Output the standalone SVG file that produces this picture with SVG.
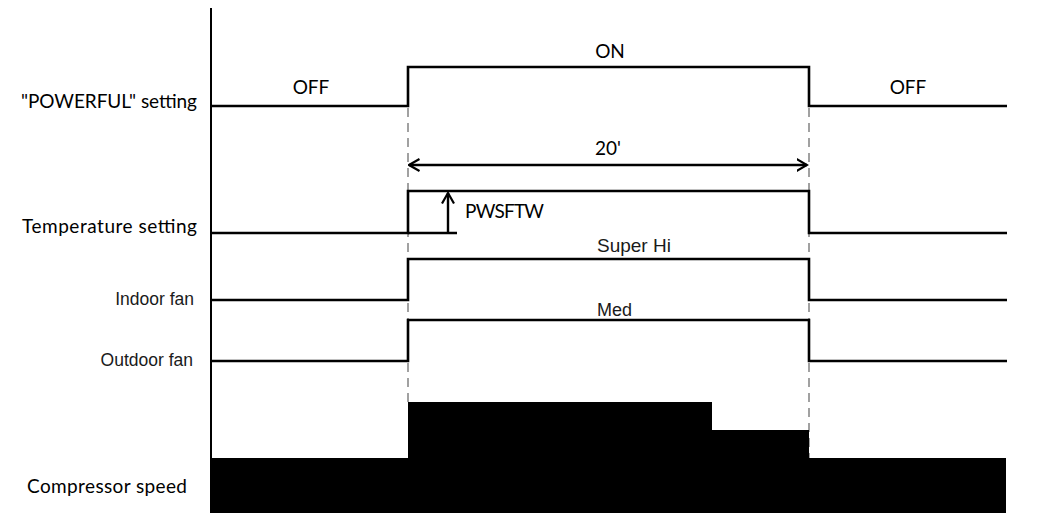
<svg xmlns="http://www.w3.org/2000/svg" width="1040" height="513" viewBox="0 0 1040 513">
<style>
.sig{fill:none;stroke:#000;stroke-width:2.6;stroke-linejoin:miter}
.dash{fill:none;stroke:#8a8a8a;stroke-width:1.6;stroke-dasharray:9 6}
.arr{fill:none;stroke:#000;stroke-width:2.4}
.c{font-family:"Lato","Open Sans","Liberation Sans",sans-serif;font-size:19px;fill:#000}
.a{font-family:"Liberation Sans",Arial,sans-serif;font-size:18px;fill:#1a1a1a}
</style>
<defs>
<marker id="chev" viewBox="0 0 12 14" refX="10.5" refY="7" markerWidth="12" markerHeight="14" markerUnits="userSpaceOnUse" orient="auto-start-reverse">
<path d="M0,1 L10.5,7 L0,13" fill="none" stroke="#000" stroke-width="2.2"/>
</marker>
</defs>
<rect width="1040" height="513" fill="#fff"/>
<g id="axis"><line x1="211" y1="8" x2="211" y2="513" stroke="#000" stroke-width="2"/></g>
<g id="guides">
<line class="dash" x1="408" y1="108" x2="408" y2="402"/>
<line class="dash" x1="809" y1="108" x2="809" y2="458"/>
</g>
<g id="labels">
<text class="c" x="197" y="108" text-anchor="end" textLength="176">"POWERFUL" setting</text>
<text class="c" x="197" y="233" text-anchor="end" textLength="175">Temperature setting</text>
<text class="a" x="194" y="305" text-anchor="end" style="font-size:17.5px">Indoor fan</text>
<text class="a" x="193" y="366" text-anchor="end" style="font-size:17.5px">Outdoor fan</text>
<text class="c" x="187" y="493" text-anchor="end" textLength="160">Compressor speed</text>
</g>
<g id="powerful">
<path class="sig" d="M211,106 H408 V67 H809 V106 H1007"/>
<text class="c" x="311" y="94" text-anchor="middle">OFF</text>
<text class="c" x="610" y="58" text-anchor="middle">ON</text>
<text class="c" x="908" y="94" text-anchor="middle">OFF</text>
</g>
<g id="connectors">
<line class="arr" x1="409" y1="165" x2="807" y2="165" marker-start="url(#chev)" marker-end="url(#chev)"/>
<line class="arr" x1="448" y1="233" x2="448" y2="193" marker-end="url(#chev)"/>
</g>
<g id="duration"><text class="c" x="608" y="155" text-anchor="middle">20'</text></g>
<g id="temperature">
<path class="sig" d="M211,233 H408 V191 H809 V233 H1007"/>
<line class="sig" x1="408" y1="233" x2="457" y2="233"/>
<text class="c" x="465" y="218" textLength="79">PWSFTW</text>
</g>
<g id="indoor">
<path class="sig" d="M211,300 H408 V259 H809 V300 H1007"/>
<text class="a" x="597" y="252" style="font-size:19px">Super Hi</text>
</g>
<g id="outdoor">
<path class="sig" d="M211,361 H408 V320 H809 V361 H1007"/>
<text class="a" x="597" y="316">Med</text>
</g>
<g id="compressor">
<path d="M211,458 H408 V402 H712 V430 H809 V458 H1006 V513 H211 Z" fill="#000"/>
</g>
</svg>
